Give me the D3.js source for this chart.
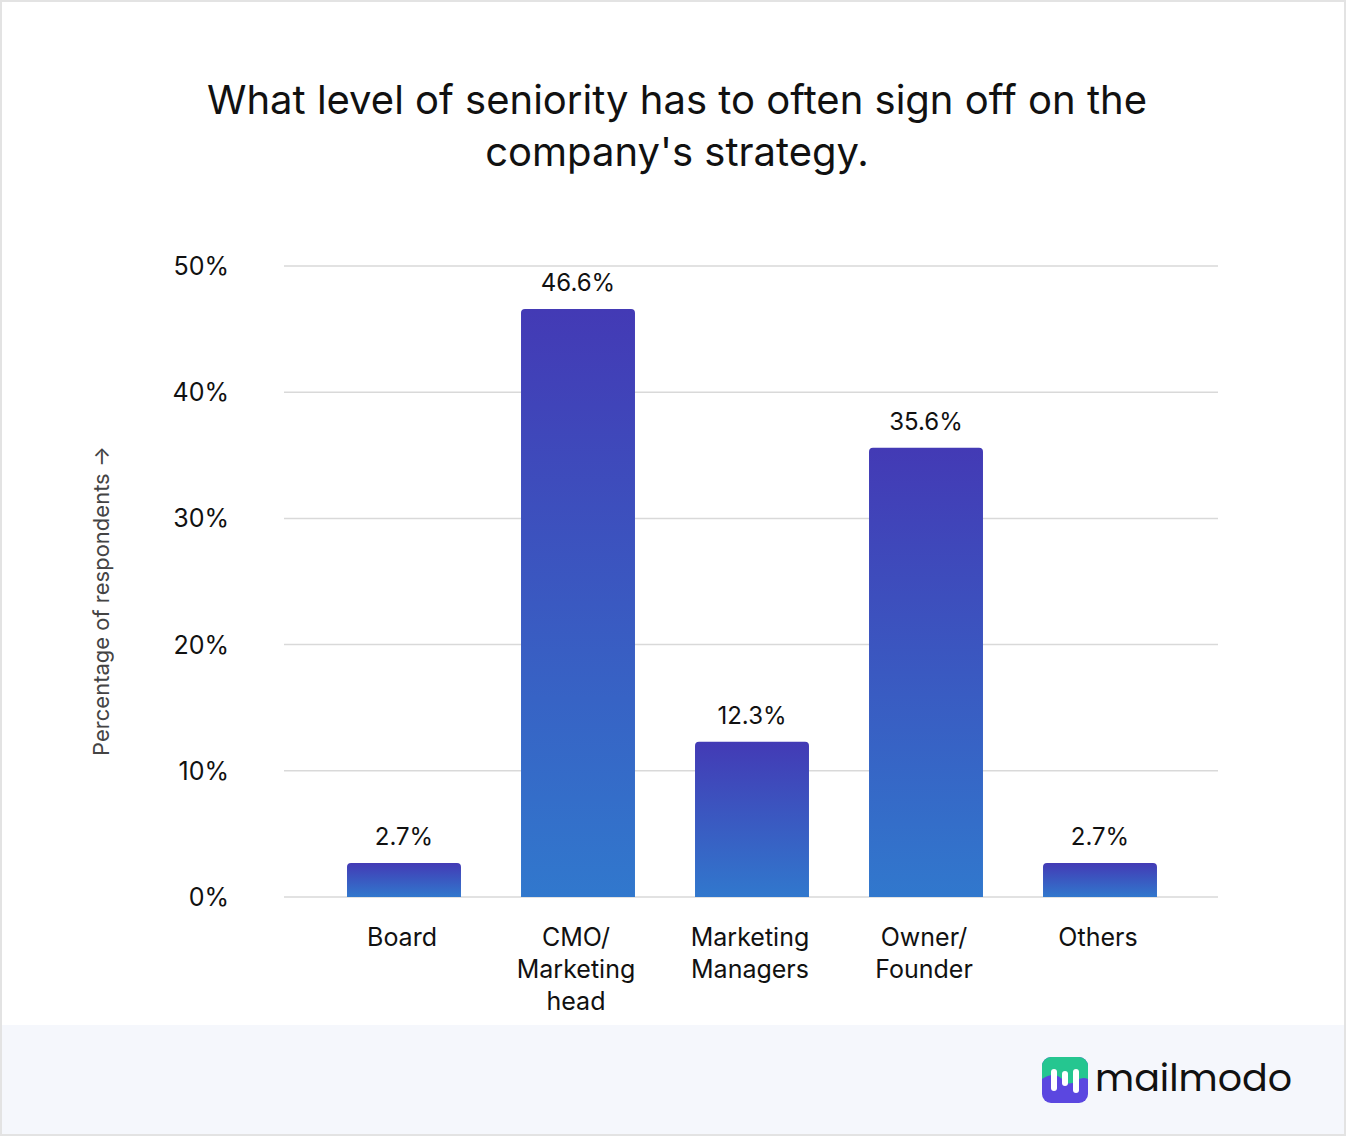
<!DOCTYPE html>
<html><head><meta charset="utf-8">
<script src="https://cdn.jsdelivr.net/npm/d3@7"></script>
<style>body{margin:0;background:#fff;font-family:Inter,sans-serif}</style>
</head><body><div id="chart"></div>
<script>
const categories = [["Board"], ["CMO/", "Marketing", "head"], ["Marketing", "Managers"], ["Owner/", "Founder"], ["Others"]];
const values = [2.7, 46.6, 12.3, 35.6, 2.7];
const yTicks = [0, 10, 20, 30, 40, 50];

const W = 1346, H = 1136;
const svg = d3.select("#chart").append("svg").attr("width", W).attr("height", H)
  .style("font-family", "Inter, sans-serif");

// card + footer
svg.append("rect").attr("x", 1).attr("y", 1).attr("width", W - 2).attr("height", H - 2)
  .attr("fill", "#fff").attr("stroke", "#e3e3e3").attr("stroke-width", 2);
svg.append("rect").attr("x", 2).attr("y", 1025).attr("width", W - 4).attr("height", H - 1027).attr("fill", "#f5f7fc");

const defs = svg.append("defs");
const grad = defs.append("linearGradient").attr("id", "barGrad")
  .attr("gradientUnits", "objectBoundingBox").attr("x1", 0).attr("y1", 0).attr("x2", 0).attr("y2", 1);
grad.append("stop").attr("offset", "0%").attr("stop-color", "#433ab5");
grad.append("stop").attr("offset", "100%").attr("stop-color", "#3178cd");

// title
const title = svg.append("text").attr("text-anchor", "middle").attr("font-size", 40).attr("fill", "#111");
title.append("tspan").attr("x", 677).attr("y", 114).text("What level of seniority has to often sign off on the");
title.append("tspan").attr("x", 677).attr("y", 166).text("company's strategy.");

const x = d3.scaleBand().domain(d3.range(values.length)).range([317, 1187]).paddingInner(0.345).paddingOuter(0.1725);
const y = d3.scaleLinear().domain([0, 50]).range([897, 266]);

// grid
svg.append("g").selectAll("line").data(yTicks).enter().append("line")
  .attr("x1", 284).attr("x2", 1218).attr("y1", d => y(d)).attr("y2", d => y(d))
  .attr("stroke", "#d9d9d9").attr("stroke-width", 1.5);
svg.append("g").selectAll("text").data(yTicks).enter().append("text")
  .attr("x", 229).attr("y", d => y(d) + 9).attr("text-anchor", "end")
  .attr("font-size", 25).attr("fill", "#111").text(d => d + "%");

svg.append("text").attr("transform", "translate(109,601) rotate(-90)")
  .attr("text-anchor", "middle").attr("font-size", 22).attr("fill", "#444")
  .text("Percentage of respondents \u2192");

// bars
svg.append("g").selectAll("path").data(values).enter().append("path")
  .attr("fill", "url(#barGrad)")
  .attr("d", (d, i) => {
    const x0 = x(i), w = x.bandwidth(), t = y(d), b = y(0), r = 4;
    return `M${x0},${b}V${t + r}Q${x0},${t} ${x0 + r},${t}H${x0 + w - r}Q${x0 + w},${t} ${x0 + w},${t + r}V${b}Z`;
  });

svg.append("g").selectAll("text").data(values).enter().append("text")
  .attr("x", (d, i) => x(i) + x.bandwidth() / 2).attr("y", d => y(d) - 18)
  .attr("text-anchor", "middle").attr("font-size", 24).attr("fill", "#111")
  .text(d => d + "%");

// category labels
svg.append("g").selectAll("text").data(categories).enter().append("text")
  .attr("text-anchor", "middle").attr("font-size", 25).attr("fill", "#111")
  .each(function (d, i) {
    d3.select(this).selectAll("tspan").data(d).enter().append("tspan")
      .attr("x", x(i) + x.bandwidth() / 2 - 2).attr("y", (t, j) => 946 + j * 32).text(t => t);
  });

// logo
const logo = svg.append("g").attr("transform", "translate(1042,1057)");
logo.append("clipPath").attr("id", "lc").append("rect").attr("width", 46).attr("height", 46).attr("rx", 9);
const lg = logo.append("g").attr("clip-path", "url(#lc)");
lg.append("rect").attr("width", 46).attr("height", 46).attr("fill", "#5b47e0");
lg.append("path").attr("d", "M0,0H46V22Q40,19 34,24Q26,30 20,22Q12,14 0,22Z").attr("fill", "#25c690");
[[9, 12, 22], [20, 14, 15], [31, 12, 24]].forEach(([lx, ly, lh]) =>
  logo.append("rect").attr("x", lx).attr("y", ly).attr("width", 6).attr("height", lh).attr("rx", 3).attr("fill", "#fff"));
svg.append("text").attr("x", 1095).attr("y", 1091).attr("font-size", 38).attr("fill", "#111")
  .attr("font-family", "Poppins, 'Open Sans', sans-serif").text("mailmodo");
</script></body></html>
